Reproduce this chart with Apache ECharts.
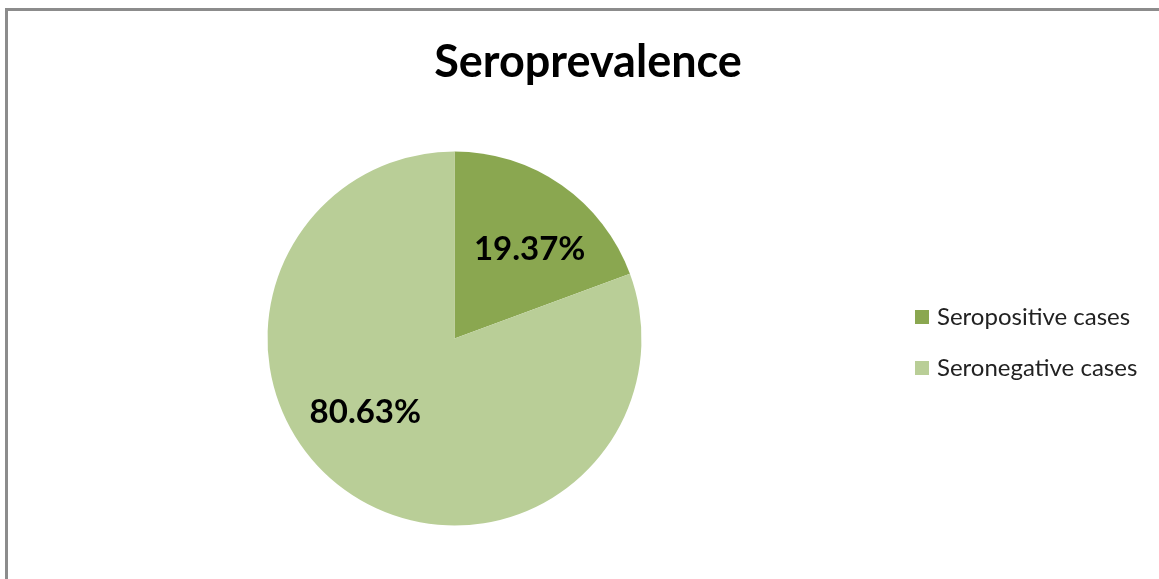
<!DOCTYPE html>
<html>
<head>
<meta charset="utf-8">
<script src="https://cdn.jsdelivr.net/npm/echarts@6/dist/echarts.min.js"></script>
<style>
html,body{margin:0;padding:0;background:#fff;}
#chart{width:1159px;height:579px;}
</style>
</head>
<body>
<div id="chart"></div>
<script>
const titleText = "Seroprevalence";
const categories = ["Seropositive cases", "Seronegative cases"];
const values = [19.37, 80.63];
const colors = ["#8AA750", "#B9CE97"];
const labelOffsets = [[20, -10], [-34, -5]];

const chart = echarts.init(document.getElementById('chart'), null, {renderer: 'canvas'});
const FONT = 'Lato';
chart.setOption({
  backgroundColor: '#ffffff',
  animation: false,
  title: {
    text: titleText,
    left: 583,
    textAlign: 'center',
    top: 35,
    textStyle: {fontFamily: FONT, fontWeight: 'bold', fontSize: 45, color: '#000'}
  },
  legend: {
    orient: 'vertical',
    left: 915,
    top: 305,
    padding: 0,
    itemWidth: 14,
    itemHeight: 14,
    itemGap: 27,
    icon: 'rect',
    data: categories,
    textStyle: {fontFamily: FONT, fontSize: 24, color: '#222', lineHeight: 20, padding: [0,0,0,3]}
  },
  graphic: [{
    type: 'rect',
    shape: {x: 6.5, y: 9.5, width: 1200, height: 620},
    style: {fill: 'none', stroke: '#8c8c8c', lineWidth: 3},
    silent: true
  }],
  series: [{
    type: 'pie',
    center: [454.5, 338.5],
    radius: 187,
    startAngle: 90,
    clockwise: true,
    itemStyle: {borderWidth: 0},
    label: {
      show: true,
      position: 'inside',
      formatter: p => p.value.toFixed(2) + '%',
      fontFamily: FONT,
      fontWeight: 'bold',
      fontSize: 33,
      color: '#000'
    },
    labelLine: {show: false},
    data: categories.map((c, i) => ({
      name: c,
      value: values[i],
      itemStyle: {color: colors[i]},
      label: {offset: labelOffsets[i]}
    }))
  }]
});
</script>
</body>
</html>
